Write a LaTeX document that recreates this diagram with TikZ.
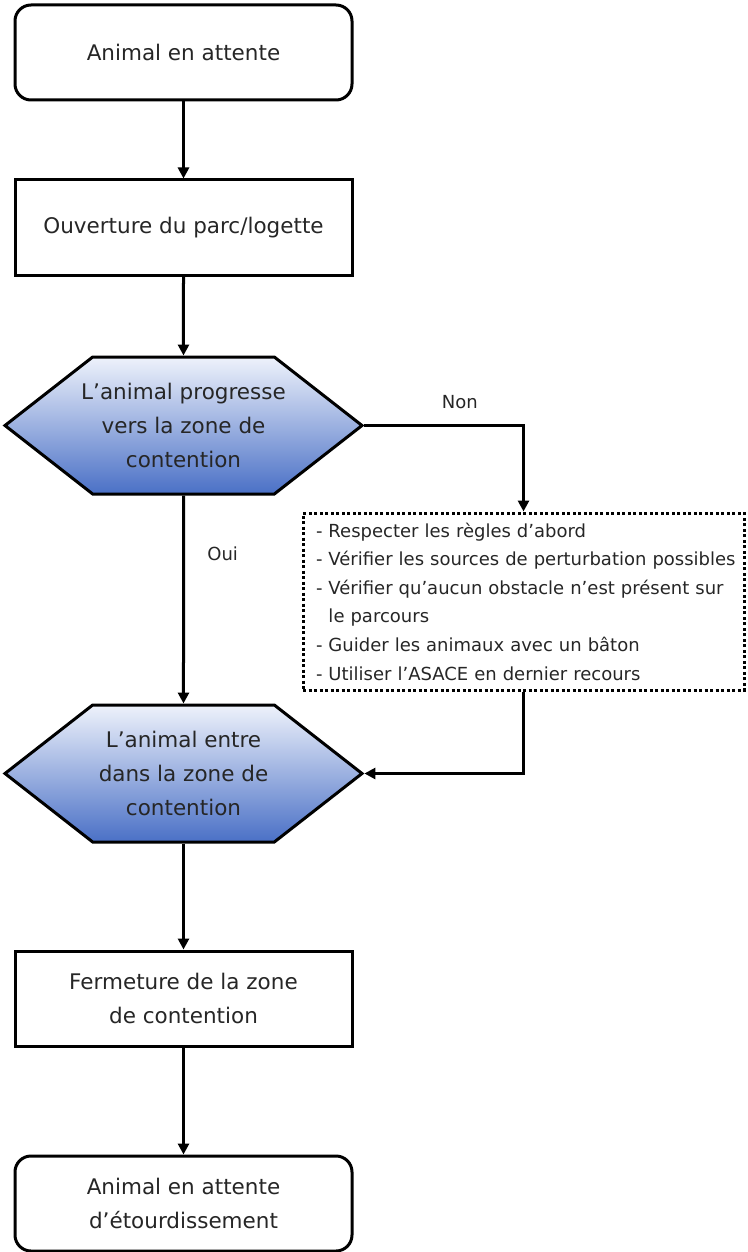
\documentclass[tikz,border=0pt]{standalone}
\usepackage{fontspec}
\setmainfont{DejaVu Sans}
\usetikzlibrary{positioning,shapes.symbols,arrows.meta}
\definecolor{hexTop}{HTML}{EEF2FB}
\definecolor{hexBot}{HTML}{4A70C6}

\begin{document}
\begin{tikzpicture}[x=1pt, y=-1pt, line width=3pt,
  every node/.style={text=black!85, font=\fontsize{21.5}{34}\selectfont},
  stepbox/.style={draw, minimum width=337pt, minimum height=95pt, align=center},
  roundbox/.style={stepbox, rounded corners=16pt},
  testbox/.style={draw, signal, signal to=west and east, signal pointer angle=76,
    minimum width=357pt, minimum height=137pt, align=center, inner xsep=-14pt,
    inner ysep=0pt, top color=hexTop, bottom color=hexBot},
  notebox/.style={draw, dash pattern=on 3pt off 2.5pt, text width=425pt,
    inner xsep=8pt, minimum height=177pt, align=left,
    font=\fontsize{18}{28.6}\selectfont},
  answer/.style={font=\fontsize{18}{22}\selectfont},
  link/.style={-{Triangle[length=11pt,width=11pt]}}]
  \useasboundingbox (0,0) rectangle (747,1252);

  \node (start) [roundbox] at (183.5,52.5) {Animal en attente};
  \node (open) [stepbox, below=77pt of start] {Ouverture du parc/logette};
  \node (hex1) [testbox, below=79pt of open] {L’animal progresse\\vers la zone de\\contention};
  \node (hex2) [testbox, below=208pt of hex1] {L’animal entre\\dans la zone de\\contention};
  \node (close) [stepbox, below=106pt of hex2] {Fermeture de la zone\\de contention};
  \node (end) [roundbox, below=107pt of close] {Animal en attente\\d’étourdissement};
  \node (tips) [notebox] at (523.5,601.5) {\leftskip=5pt
    - Respecter les règles d'abord\\
    - Vérifier les sources de perturbation possibles\\
    - Vérifier qu'aucun obstacle n'est présent sur\\
    \hphantom{- }le parcours\\
    - Guider les animaux avec un bâton\\
    - Utiliser l'ASACE en dernier recours\par};

  \draw[link] (start) -- (open);
  \draw[link] (open) -- (hex1);
  \draw[link] (hex1) -- node[answer, right=19pt, pos=0.28] {Oui} (hex2);
  \draw[link] (hex1.east) -| node[answer, above=12pt, pos=0.3] {Non} (tips);
  \draw[link] (tips) |- (hex2.east);
  \draw[link] (hex2) -- (close);
  \draw[link] (close) -- (end);
\end{tikzpicture}
\end{document}
